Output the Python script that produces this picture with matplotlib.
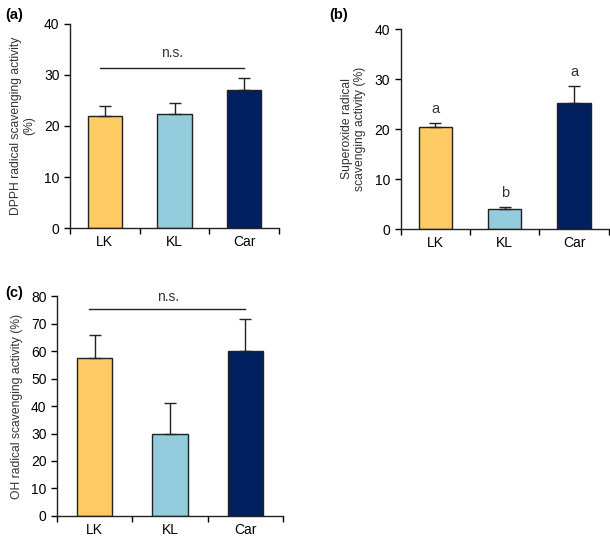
import numpy as np
import matplotlib
matplotlib.use("Agg")
import matplotlib.pyplot as plt

plt.rcParams['font.family'] = ['Liberation Sans', 'DejaVu Sans']

groups = ['LK', 'KL', 'Car']
colors = ['#FECB65', '#93CDDD', '#002060']

dpph = [22.0, 22.3, 27.0]
dpph_err = [2.0, 2.2, 2.4]
superoxide = [20.5, 4.0, 25.2]
superoxide_err = [0.8, 0.5, 3.5]
superoxide_letters = ['a', 'b', 'a']
oh = [57.5, 30.0, 60.0]
oh_err = [8.3, 11.0, 11.5]


def barpanel(ax, vals, errs, ymax, ystep, width):
    x = np.arange(len(groups))
    ax.bar(x, vals, width, color=colors, edgecolor='#222222', linewidth=1.0, zorder=2)
    ax.errorbar(x, vals, yerr=[np.zeros(len(errs)), errs], fmt='none',
                ecolor='#222222', elinewidth=1.0, capsize=4, capthick=1.0, zorder=3)
    ax.set_xlim(-0.5, len(groups) - 0.5)
    ax.set_ylim(0, ymax)
    ax.set_yticks(np.arange(0, ymax + 1, ystep))
    ax.set_xticks(x)
    ax.set_xticklabels(groups, fontsize=10)
    ax.tick_params(axis='x', length=0, pad=5)
    ax.set_xticks(np.arange(-0.5, len(groups)), minor=True)
    ax.tick_params(axis='x', which='minor', length=4, width=1, direction='out')
    ax.tick_params(axis='y', length=4, width=1, direction='out', labelsize=10)
    for s in ['top', 'right']:
        ax.spines[s].set_visible(False)
    for s in ['left', 'bottom']:
        ax.spines[s].set_linewidth(1.0)
        ax.spines[s].set_color('#222222')


fig = plt.figure(figsize=(6.1, 5.38), dpi=100)

ax1 = fig.add_axes([0.1148, 0.5762, 0.3426, 0.3792])
barpanel(ax1, dpph, dpph_err, 40, 10, 0.49)
ax1.set_ylabel('DPPH radical scavenging activity\n(%)', fontsize=8.7, color='#333333', labelpad=6)
ax1.plot([-0.07, 2.0], [31.4, 31.4], color='#222222', lw=1.0)
ax1.text(0.97, 34.3, 'n.s.', ha='center', va='center', fontsize=10, color='#333333')

ax2 = fig.add_axes([0.657, 0.5743, 0.341, 0.3717])
barpanel(ax2, superoxide, superoxide_err, 40, 10, 0.48)
ax2.set_ylabel('Superoxide radical\nscavenging activity (%)', fontsize=8.7, color='#333333', labelpad=6)
for i, lab in enumerate(superoxide_letters):
    ax2.text(i, superoxide[i] + superoxide_err[i] + 2.8, lab, ha='center', va='center',
             fontsize=10.5, color='#333333')

ax3 = fig.add_axes([0.0934, 0.0409, 0.3706, 0.4089])
barpanel(ax3, oh, oh_err, 80, 10, 0.47)
ax3.set_ylabel('OH radical scavenging activity (%)', fontsize=8.7, color='#333333', labelpad=6)
ax3.plot([-0.08, 2.0], [75.3, 75.3], color='#222222', lw=1.0)
ax3.text(0.97, 79.6, 'n.s.', ha='center', va='center', fontsize=10, color='#333333', clip_on=False)

fig.text(0.008, 0.985, '(a)', fontsize=10.5, fontweight='bold', va='top', ha='left')
fig.text(0.540, 0.985, '(b)', fontsize=10.5, fontweight='bold', va='top', ha='left')
fig.text(0.008, 0.468, '(c)', fontsize=10.5, fontweight='bold', va='top', ha='left')

fig.savefig('out.png', dpi=100)
